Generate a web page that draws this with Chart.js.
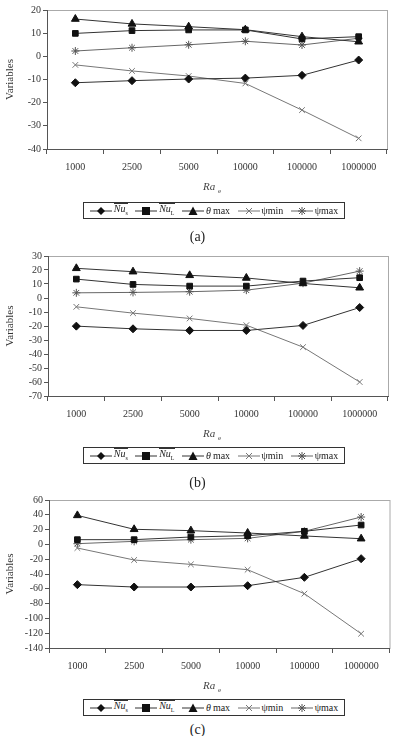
<!DOCTYPE html>
<html>
<head>
<meta charset="utf-8">
<script src="https://cdn.jsdelivr.net/npm/chart.js@4.4.0/dist/chart.umd.min.js"></script>
<style>
  body { margin: 0; background: #fff; width: 395px; height: 736px; position: relative; overflow: hidden;
         font-family: "Liberation Serif", "DejaVu Serif", serif; color: #222; }
  canvas { position: absolute; left: 0; }
  .xt { position: absolute; font-size: 11px; font-style: italic; color: #444; }
  .xt sub { font-size: 7px; font-style: normal; }
  .legend { position: absolute; left: 83px; width: 262px; height: 17px; border: 1px solid #333;
            font-size: 10px; display: flex; align-items: center; justify-content: space-around; padding: 0 2px; box-sizing: border-box; }
  .legend span.it { display: inline-flex; align-items: center; gap: 2px; white-space: nowrap; }
  .ov { font-style: italic; border-top: 1px solid #333; line-height: 10px; }
  .ov sub { font-size: 6px; font-style: normal; }
  .cap { position: absolute; width: 395px; text-align: center; font-size: 14px; }
</style>
</head>
<body>
<canvas id="ca" width="395" height="200" style="top:0"></canvas>
<canvas id="cb" width="395" height="200" style="top:245px"></canvas>
<canvas id="cc" width="395" height="200" style="top:490px"></canvas>

<div class="xt" style="left:203px;top:180px">Ra <sub>e</sub></div>
<div class="xt" style="left:203px;top:427px">Ra <sub>e</sub></div>
<div class="xt" style="left:203px;top:679px">Ra <sub>e</sub></div>

<div class="legend" style="top:202px"></div>
<div class="legend" style="top:447px"></div>
<div class="legend" style="top:699px"></div>

<div class="cap" style="top:229px">(a)</div>
<div class="cap" style="top:475px">(b)</div>
<div class="cap" style="top:722px">(c)</div>

<script>
const categories = ['1000', '2500', '5000', '10000', '100000', '1000000'];

// panel (a)
const nusA   = [-11.4, -10.5, -9.8, -9.4, -8.2, -1.6];
const nulA   = [9.9, 11.1, 11.4, 11.4, 7.5, 8.5];
const thetaA = [16.1, 14.0, 12.8, 11.5, 8.5, 6.3];
const psiMinA = [-3.7, -6.3, -8.5, -11.7, -23.2, -35.4];
const psiMaxA = [2.3, 3.7, 5.0, 6.5, 4.9, 7.8];

// panel (b)
const nusB   = [-20.1, -22.0, -23.2, -23.2, -19.6, -6.8];
const nulB   = [13.5, 9.7, 8.5, 8.5, 12.1, 14.5];
const thetaB = [21.2, 18.8, 16.2, 14.3, 10.4, 7.3];
const psiMinB = [-6.3, -10.8, -14.6, -19.4, -35.1, -60.0];
const psiMaxB = [3.7, 4.0, 4.5, 5.6, 10.6, 19.2];

// panel (c)
const nusC   = [-54.4, -57.6, -57.6, -55.8, -44.5, -19.3];
const nulC   = [6.4, 6.4, 10.0, 11.8, 17.7, 26.2];
const thetaC = [39.2, 20.4, 18.6, 15.4, 11.4, 7.7];
const psiMinC = [-4.9, -21.1, -27.0, -34.2, -66.6, -120.7];
const psiMaxC = [1.0, 4.1, 6.4, 8.2, 17.7, 37.0];

const seriesStyle = [
  { style: 'rectRot',  r: 4,   color: '#111', line: '#333' },
  { style: 'rect',     r: 4,   color: '#111', line: '#333' },
  { style: 'triangle', r: 4.5, color: '#111', line: '#333' },
  { style: 'crossRot', r: 4,   color: '#777', line: '#777' },
  { style: 'star',     r: 4,   color: '#555', line: '#666' }
];

const serif = "'Liberation Serif', 'DejaVu Serif', serif";

const plotFrame = {
  id: 'plotFrame',
  beforeDraw(chart) {
    const a = chart.chartArea, ctx = chart.ctx;
    ctx.save();
    ctx.strokeStyle = '#aaa';
    ctx.lineWidth = 1;
    ctx.strokeRect(a.left + 0.5, a.top + 0.5, a.right - a.left, a.bottom - a.top);
    ctx.restore();
  }
};

function makeChart(id, values, yMin, yMax, step, left, right, top, bottomH) {
  const datasets = values.map((v, i) => ({
    data: v,
    borderColor: seriesStyle[i].line,
    backgroundColor: seriesStyle[i].color,
    pointBorderColor: seriesStyle[i].color,
    pointStyle: seriesStyle[i].style,
    pointRadius: seriesStyle[i].r,
    pointBorderWidth: 1,
    borderWidth: 1,
    tension: 0
  }));
  new Chart(document.getElementById(id), {
    type: 'line',
    data: { labels: categories, datasets: datasets },
    plugins: [plotFrame],
    options: {
      responsive: false,
      animation: false,
      layout: { padding: { top: top, right: 395 - right, left: 0, bottom: 0 } },
      plugins: { legend: { display: false }, tooltip: { enabled: false } },
      scales: {
        x: {
          offset: true,
          grid: { offset: true, drawOnChartArea: false, drawTicks: true, tickLength: 5, color: '#555' },
          border: { color: '#555' },
          ticks: { padding: 7, color: '#333', font: { family: serif, size: 10 }, maxRotation: 0, autoSkip: false },
          afterFit(s) { s.height = bottomH; }
        },
        y: {
          min: yMin, max: yMax,
          grid: { drawOnChartArea: false, drawTicks: true, tickLength: 4, color: '#555' },
          border: { color: '#555' },
          ticks: { stepSize: step, padding: 2, color: '#333', autoSkip: false, font: { family: serif, size: 10 } },
          title: { display: true, text: 'Variables', color: '#333', padding: { top: 4, bottom: 0 },
                   font: { family: serif, size: 11 } },
          afterFit(s) { s.width = left; }
        }
      }
    }
  });
}

makeChart('ca', [nusA, nulA, thetaA, psiMinA, psiMaxA], -40, 20, 10, 47, 387, 10, 51);
makeChart('cb', [nusB, nulB, thetaB, psiMinB, psiMaxB], -70, 30, 10, 48, 388, 11, 49);
makeChart('cc', [nusC, nulC, thetaC, psiMinC, psiMaxC], -140, 60, 20, 49, 390, 10, 42);

// legend icons
function icon(i) {
  const s = seriesStyle[i];
  let m = '';
  if (s.style === 'rectRot') m = '<polygon points="11,1 15,5 11,9 7,5" fill="' + s.color + '"/>';
  if (s.style === 'rect') m = '<rect x="7" y="1" width="8" height="8" fill="' + s.color + '"/>';
  if (s.style === 'triangle') m = '<polygon points="11,0.5 15.5,9 6.5,9" fill="' + s.color + '"/>';
  if (s.style === 'crossRot') m = '<path d="M8,2 L14,8 M14,2 L8,8" stroke="' + s.color + '"/>';
  if (s.style === 'star') m = '<path d="M8,2 L14,8 M14,2 L8,8 M11,1 L11,9 M7,5 L15,5" stroke="' + s.color + '"/>';
  return '<svg width="22" height="10"><line x1="0" y1="5" x2="22" y2="5" stroke="' + s.line + '"/>' + m + '</svg>';
}
const legendLabels = [
  '<span class="ov">Nu<sub>s</sub></span>',
  '<span class="ov">Nu<sub>L</sub></span>',
  '<i>θ</i>max',
  'ψmin',
  'ψmax'
];
document.querySelectorAll('.legend').forEach(el => {
  el.innerHTML = legendLabels.map((t, i) => '<span class="it">' + icon(i) + t + '</span>').join('');
});
</script>
</body>
</html>
